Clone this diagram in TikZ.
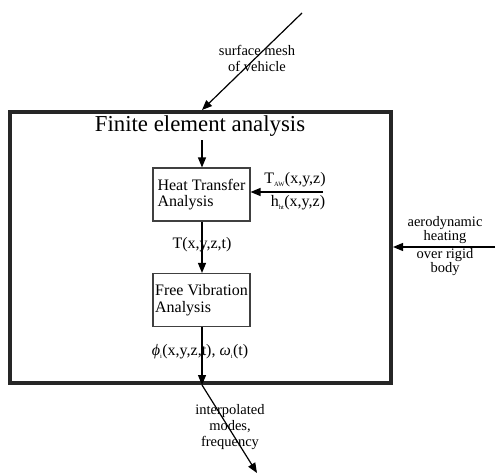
\documentclass[tikz,border=0pt]{standalone}
\usepackage{fontspec}
\setmainfont{Liberation Serif}
\usetikzlibrary{positioning,arrows.meta}

\begin{document}
\begin{tikzpicture}[x=1pt, y=-1pt,
  blk/.style={draw=black!75, line width=1.1pt, minimum width=97pt, minimum height=53pt, align=left,
              font=\fontsize{16}{16.5}\selectfont, inner sep=1pt},
  arr/.style={-{Triangle[length=10pt, width=8pt]}, line width=1.2pt},
  lbl/.style={align=center, font=\fontsize{14.5}{16}\selectfont, inner sep=1pt},
  mlbl/.style={lbl, font=\fontsize{16}{17}\selectfont}
]
  \useasboundingbox (0,0) rectangle (496,476);

  % frame
  \node[draw=black!85, line width=4pt, minimum width=381pt, minimum height=271pt, inner sep=0pt] (fea) at (200.5,247.5) {};
  \node[font=\fontsize{22.8}{24}\selectfont, anchor=base] (title) at (200,132) {Finite element analysis};

  % blocks
  \node[blk] (ht) at (201.5,194.5) {Heat Transfer\\Analysis};
  \node[blk] (fv) at (201.5,300) {Free Vibration\\Analysis};

  % free ends
  \coordinate (mesh) at (302,13);
  \coordinate (tin) at (323,192);
  \coordinate (aero) at (495,247);
  \coordinate (modes) at (257,473);
  \coordinate (col) at (202,0);

  \draw[arr] (mesh) -- (col |- fea.north);
  \draw[arr] (col |- title.south) -- (col |- ht.north);
  \draw[arr] (tin) -- (tin -| ht.east);
  \draw[arr] (col |- ht.south) -- (col |- fv.north);
  \draw[arr] (col |- fv.south) -- (col |- fea.south);
  \draw[arr] (col |- fea.south) -- (modes);
  \draw[arr] (aero) -- (aero -| fea.east);

  % labels
  \node[lbl] (meshlbl) at (257,58) {surface mesh\\of vehicle};
  \node[mlbl] (taw) at (295,180) {T\textsubscript{\fontsize{6.5}{7}\selectfont AW}(x,y,z)};
  \node[mlbl] (hht) at (298,203) {h\textsubscript{\fontsize{6.5}{7}\selectfont ht}(x,y,z)};
  \node[mlbl] (tlbl) at (202,245) {T(x,y,z,t)};
  \node[mlbl] (philbl) at (200,352) {\textit{ϕ}\textsubscript{\fontsize{6.5}{7}\selectfont i}(x,y,z,t), \textit{ω}\textsubscript{\fontsize{6.5}{7}\selectfont i}(t)};
  \node[lbl, font=\fontsize{14.5}{14.5}\selectfont] (aerolbl) at (445,246) {aerodynamic\\heating\\[3pt]over rigid\\body};
  \node[lbl] (modeslbl) at (230,427) {interpolated\\modes,\\frequency};
\end{tikzpicture}
\end{document}
